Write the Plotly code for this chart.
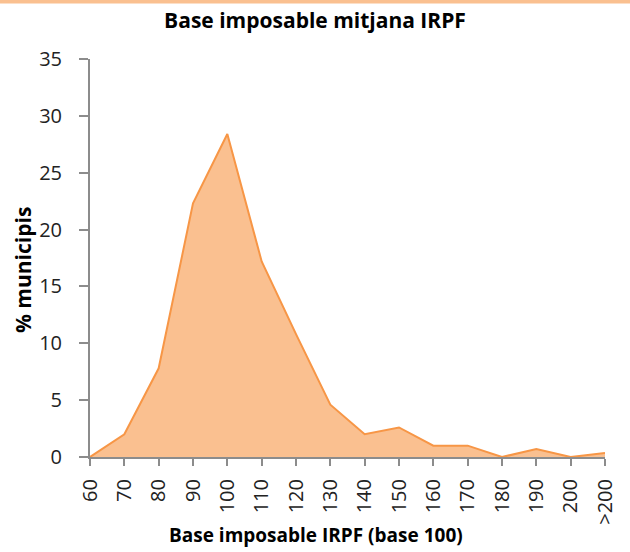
import plotly.graph_objects as go

categories = ["60", "70", "80", "90", "100", "110", "120", "130", "140", "150",
              "160", "170", "180", "190", "200", ">200"]
pct_municipis = [0.0, 2.0, 7.8, 22.3, 28.4, 17.2, 10.8, 4.6, 2.0, 2.6,
                 1.0, 1.0, 0.0, 0.7, 0.0, 0.35]
y_ticks = [0, 5, 10, 15, 20, 25, 30, 35]

xpos = list(range(len(categories)))
FONT = "Open Sans, Noto Sans, sans-serif"
W, H = 630, 552
L, R, T, B = 90, 25, 59, 95
PW, PH = W - L - R, H - T - B


def px_x(px):
    return (px - L) / PW


def px_y(py):
    return (H - B - py) / PH


fig = go.Figure()
fig.add_trace(go.Scatter(
    x=xpos, y=pct_municipis, mode="lines",
    line=dict(color="#F79646", width=2),
    fill="tozeroy", fillcolor="#FAC090",
    hoverinfo="skip", showlegend=False,
))

fig.update_layout(
    width=W, height=H,
    margin=dict(l=L, r=R, t=T, b=B),
    paper_bgcolor="white", plot_bgcolor="white",
    font=dict(family=FONT, size=20, color="#222"),
    title=dict(text="<b>Base imposable mitjana IRPF</b>", x=0.5, xanchor="center",
               xref="container",
               y=1 - 21 / H, yanchor="middle",
               font=dict(family=FONT, size=21, color="black")),
    xaxis=dict(
        range=[0, len(categories) - 1],
        tickmode="array", tickvals=xpos, ticktext=categories,
        tickangle=-90, ticks="outside", ticklen=7, tickcolor="#8c8c8c", tickwidth=2,
        ticklabelstandoff=5,
        showline=True, linecolor="#8c8c8c", linewidth=2,
        showgrid=False, zeroline=False,
        tickfont=dict(family=FONT, size=20, color="#222"),
    ),
    yaxis=dict(
        range=[0, 35], tickmode="array", tickvals=y_ticks,
        ticks="outside", ticklen=9, tickcolor="#8c8c8c", tickwidth=2,
        ticklabelstandoff=13,
        showline=True, linecolor="#8c8c8c", linewidth=2,
        showgrid=False, zeroline=False,
        tickfont=dict(family=FONT, size=20, color="#222"),
    ),
    annotations=[
        dict(text="<b>Base imposable IRPF (base 100)</b>", xref="paper", yref="paper",
             x=px_x(316), y=px_y(535), xanchor="center", yanchor="middle",
             showarrow=False, font=dict(family=FONT, size=19, color="black")),
        dict(text="<b>% municipis</b>", xref="paper", yref="paper",
             x=px_x(23), y=px_y(270), xanchor="center", yanchor="middle",
             textangle=-90, showarrow=False,
             font=dict(family=FONT, size=21, color="black")),
    ],
    shapes=[dict(type="rect", xref="paper", yref="paper",
                 x0=-L / PW, x1=1 + R / PW, y0=1 + (T - 3.5) / PH, y1=1 + (T + 5) / PH,
                 fillcolor="#FAC090", line=dict(width=0), layer="above")],
)

fig.write_html("out.html", config={"displayModeBar": False},
               post_script="document.body.style.margin='0';document.documentElement.style.margin='0';")
